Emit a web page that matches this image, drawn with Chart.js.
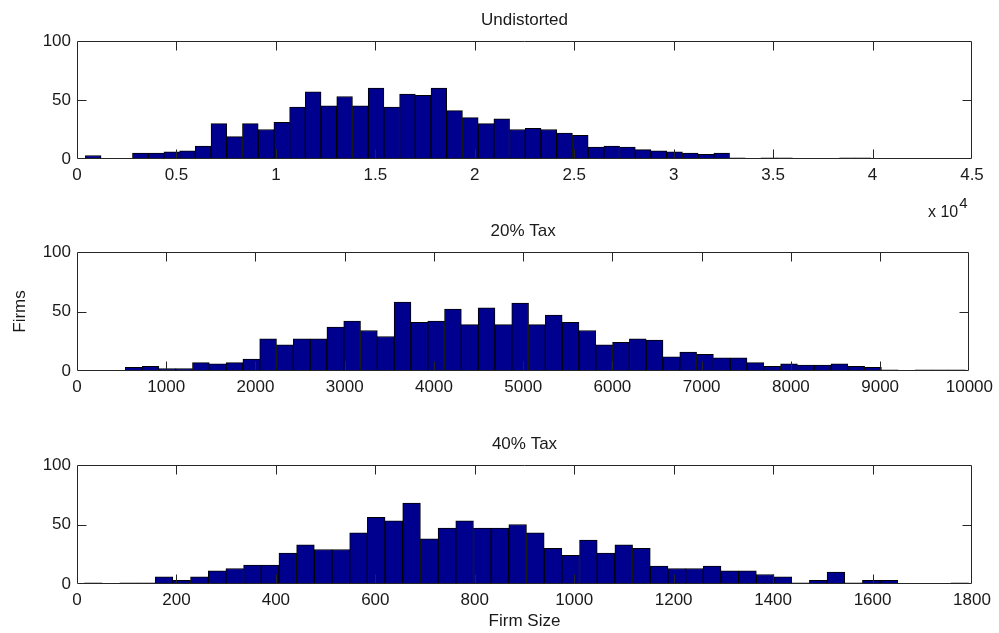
<!DOCTYPE html>
<html>
<head>
<meta charset="utf-8">
<script src="https://cdn.jsdelivr.net/npm/chart.js@4.4.1/dist/chart.umd.min.js"></script>
<style>
  body { margin: 0; background: #fff; }
  .panel { position: absolute; left: 0; width: 999px; }
  canvas { display: block; }
</style>
</head>
<body>
<div class="panel" style="top:0px;height:225px"><canvas id="undistorted" width="999" height="225"></canvas></div>
<div class="panel" style="top:210px;height:220px"><canvas id="tax20" width="999" height="220"></canvas></div>
<div class="panel" style="top:423px;height:210px"><canvas id="tax40" width="999" height="210"></canvas></div>
<script>
// firm counts per histogram bin (50 bins each)
var undistortedCounts = [
  3, 0, 0, 5, 5, 6, 7, 11, 30, 19, 30, 25, 31, 44, 57, 45, 53, 45, 60, 44,
  55, 54, 60, 41, 35, 30, 34, 25, 26, 25, 22, 20, 10, 11, 10, 8, 7, 6, 5, 4,
  5, 1, 0, 1, 1, 0, 0, 0, 1, 1
];
var tax20Counts = [
  3, 4, 2, 2, 7, 6, 7, 10, 27, 22, 27, 27, 37, 42, 34, 29, 58, 41, 42, 52,
  39, 53, 39, 57, 39, 47, 41, 34, 22, 24, 27, 26, 12, 16, 14, 11, 11, 7, 4, 6,
  5, 5, 6, 4, 3, 1, 0, 1, 1, 1
];
var tax40Counts = [
  1, 0, 1, 1, 6, 3, 6, 11, 13, 16, 16, 26, 33, 29, 29, 43, 56, 53, 68, 38,
  47, 53, 47, 47, 50, 43, 30, 24, 37, 26, 33, 30, 15, 13, 13, 15, 11, 11, 8, 6,
  1, 3, 10, 1, 3, 3, 0, 0, 0, 1
];

// first bin edge and bin width, in firm size units
var undistortedBins = [420, 790];
var tax20Bins = [541, 188.3];
var tax40Bins = [15, 35.56];

// axis limits and tick steps
var undistortedAxis = [0, 45000, 5000];
var tax20Axis = [0, 10000, 1000];
var tax40Axis = [0, 1800, 200];
var countAxis = [0, 100, 50];

var FONT = "'Liberation Sans', Arial, Helvetica, sans-serif";
var INK = "#1a1a1a";
var EDGE = "#262626";

Chart.defaults.font.family = FONT;
Chart.defaults.font.size = 17;
Chart.defaults.color = INK;

function binPoints(counts, bins) {
  return counts.map(function (c, i) {
    return { x: bins[0] + (i + 0.5) * bins[1], y: c };
  });
}

// boxed axes with inward tick marks on all four sides
var boxTicks = {
  id: "boxTicks",
  afterDatasetsDraw: function (chart) {
    var ctx = chart.ctx, a = chart.chartArea;
    var xs = chart.scales.x, ys = chart.scales.y;
    var L = Math.round(a.left) + 0.5, R = Math.round(a.right) - 0.5;
    var T = Math.round(a.top) + 0.5, B = Math.round(a.bottom) - 0.5;
    var len = 9;
    ctx.save();
    ctx.strokeStyle = EDGE;
    ctx.lineWidth = 1;
    ctx.beginPath();
    ctx.rect(L, T, R - L, B - T);
    xs.ticks.forEach(function (t) {
      if (t.value <= xs.min || t.value >= xs.max) return;
      var px = Math.round(xs.getPixelForValue(t.value)) + 0.5;
      ctx.moveTo(px, B); ctx.lineTo(px, B - len);
      ctx.moveTo(px, T); ctx.lineTo(px, T + len);
    });
    ys.ticks.forEach(function (t) {
      if (t.value <= ys.min || t.value >= ys.max) return;
      var py = Math.round(ys.getPixelForValue(t.value)) + 0.5;
      ctx.moveTo(L, py); ctx.lineTo(L + len, py);
      ctx.moveTo(R, py); ctx.lineTo(R - len, py);
    });
    ctx.stroke();

    var exp = chart.options.plugins.boxTicks.exponent;
    if (exp) {
      ctx.fillStyle = INK;
      ctx.textBaseline = "alphabetic";
      ctx.textAlign = "left";
      ctx.font = "16px " + FONT;
      var base = "x 10";
      var bx = a.right - 44, by = a.bottom + 58;
      ctx.fillText(base, bx, by);
      ctx.font = "15px " + FONT;
      ctx.fillText(exp, bx + ctx.measureText(base).width + 3, by - 9);
    }
    ctx.restore();
  }
};

function histogram(id, opts) {
  return new Chart(id, {
    type: "bar",
    data: {
      datasets: [{
        data: binPoints(opts.counts, opts.bins),
        backgroundColor: "#00008f",
        borderColor: "#000000",
        borderWidth: 1,
        borderSkipped: false,
        barPercentage: 1,
        categoryPercentage: 1
      }]
    },
    plugins: [boxTicks],
    options: {
      responsive: false,
      animation: false,
      devicePixelRatio: 1,
      layout: { padding: { left: 0, right: 27, top: 0, bottom: 0 } },
      plugins: {
        legend: { display: false },
        tooltip: { enabled: false },
        boxTicks: { exponent: opts.exponent || "" },
        title: {
          display: true,
          text: opts.title,
          fullSize: false,
          color: INK,
          font: { size: 17, weight: "normal", lineHeight: 1.2 },
          padding: { top: opts.titlePad[0], bottom: opts.titlePad[1] }
        }
      },
      scales: {
        x: {
          type: "linear",
          offset: false,
          min: opts.axis[0],
          max: opts.axis[1],
          grid: { display: false, drawTicks: false },
          border: { display: false },
          ticks: {
            stepSize: opts.axis[2],
            autoSkip: false,
            maxRotation: 0,
            padding: 6,
            color: INK,
            callback: opts.tickText
          },
          title: {
            display: !!opts.xTitle,
            text: opts.xTitle || "",
            color: INK,
            font: { size: 17, lineHeight: 1.2 },
            padding: { top: 0, bottom: 1 }
          },
          afterFit: function (s) { s.height = opts.xHeight; }
        },
        y: {
          min: countAxis[0],
          max: countAxis[1],
          grid: { display: false, drawTicks: false },
          border: { display: false },
          ticks: { stepSize: countAxis[2], padding: 6, color: INK },
          title: {
            display: !!opts.yTitle,
            text: opts.yTitle || "",
            color: INK,
            font: { size: 17, lineHeight: 1.2 },
            padding: { top: 10, bottom: 0 }
          },
          afterFit: function (s) { s.width = 77; }
        }
      }
    }
  });
}

histogram("undistorted", {
  title: "Undistorted",
  counts: undistortedCounts,
  bins: undistortedBins,
  axis: undistortedAxis,
  titlePad: [10, 10.6],
  xHeight: 66,
  exponent: "4",
  tickText: function (v) { return String(v / 10000); }
});

histogram("tax20", {
  title: "20% Tax",
  counts: tax20Counts,
  bins: tax20Bins,
  axis: tax20Axis,
  titlePad: [10.8, 10.8],
  xHeight: 59,
  yTitle: "Firms",
  tickText: function (v) { return String(v); }
});

histogram("tax40", {
  title: "40% Tax",
  counts: tax40Counts,
  bins: tax40Bins,
  axis: tax40Axis,
  titlePad: [10.8, 10.8],
  xHeight: 49,
  xTitle: "Firm Size",
  tickText: function (v) { return String(v); }
});
</script>
</body>
</html>
